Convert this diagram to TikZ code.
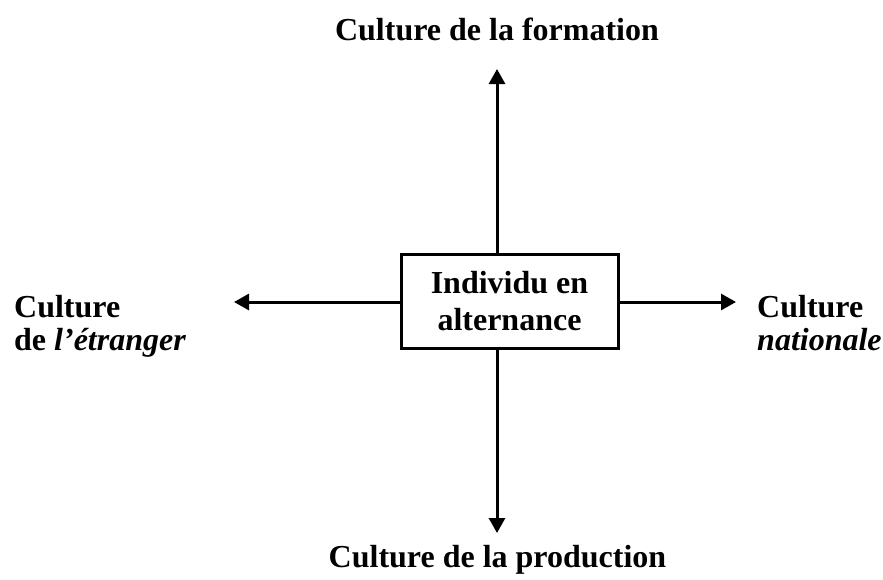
\documentclass[tikz,border=0pt]{standalone}
\usepackage{fontspec}
\setmainfont{Liberation Serif}
\usetikzlibrary{arrows.meta}
\begin{document}
\begin{tikzpicture}[x=1pt,y=-1pt,
  lbl/.style={inner sep=0pt,font=\fontsize{32}{34}\selectfont\bfseries},
  conn/.style={line width=3pt,-{Triangle[width=16pt,length=15pt]}},
  boxst/.style={draw,line width=3pt,minimum width=217pt,minimum height=94pt,inner sep=0pt,align=center,font=\fontsize{32}{37}\selectfont\bfseries}]
\useasboundingbox (0,0) rectangle (883,579);
\node[boxst] (c) at (509.5,301) {Individu en\\alternance};
\coordinate (tt) at (497,69);
\coordinate (bt) at (497,533);
\coordinate (lt) at (234,302);
\coordinate (rt) at (736,302);
\draw[conn] (c.north -| tt) -- (tt);
\draw[conn] (c.south -| bt) -- (bt);
\draw[conn] (c.west |- lt) -- (lt);
\draw[conn] (c.east |- rt) -- (rt);
\node[lbl,anchor=base] (top) at (497,40) {Culture de la formation};
\node[lbl,anchor=base] (bot) at (497.5,567) {Culture de la production};
\node[lbl,anchor=base west] (l1) at (14,317) {Culture};
\node[lbl,anchor=base west] (l2) at (14,350) {de \textit{l’étranger}};
\node[lbl,anchor=base west] (r1) at (757,317) {Culture};
\node[lbl,anchor=base west] (r2) at (757,350) {\textit{nationale}};
\end{tikzpicture}
\end{document}
